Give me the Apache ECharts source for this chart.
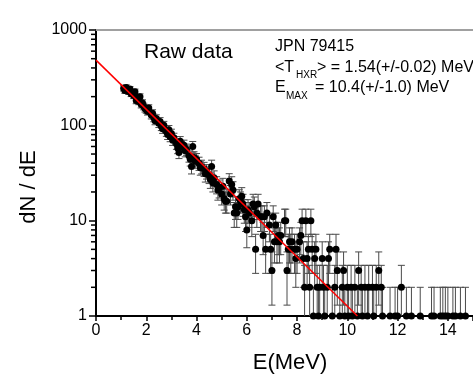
<!DOCTYPE html>
<html><head><meta charset="utf-8">
<script src="https://cdn.jsdelivr.net/npm/echarts@6/dist/echarts.min.js"></script>
<style>html,body{margin:0;padding:0;background:#fff}#c{width:473px;height:375px}</style>
</head><body><div id="c"></div>
<script>
// Measured spectrum: energy (MeV), dN/dE, and its error bar half-height
const energies = [
 1.10,1.15,1.20,1.25,1.30,1.35,1.40,1.50,1.55,1.60,
 1.65,1.70,1.75,1.80,1.85,1.90,1.95,2.00,2.05,2.10,
 2.20,2.25,2.30,2.35,2.40,2.50,2.55,2.60,2.65,2.70,
 2.80,2.85,2.90,2.95,3.00,3.05,3.10,3.20,3.25,3.30,
 3.35,3.40,3.50,3.55,3.60,3.70,3.75,3.80,3.85,3.90,
 3.95,4.00,4.10,4.15,4.20,4.30,4.35,4.40,4.50,4.55,
 4.60,4.65,4.70,4.80,4.85,4.90,5.00,5.05,5.10,5.15,
 5.20,5.30,5.35,5.40,5.45,5.50,5.55,5.60,5.65,5.70,
 5.75,5.80,5.85,5.90,5.95,6.00,6.05,6.10,6.20,6.25,
 6.30,6.35,6.40,6.45,6.55,6.60,6.65,6.70,6.75,6.80,
 6.90,6.95,7.00,7.05,7.10,7.15,7.20,7.25,7.30,7.35,
 7.50,7.55,7.60,7.65,7.70,7.75,7.80,7.90,7.95,8.00,
 8.10,8.15,8.20,8.25,8.30,8.35,8.40,8.45,8.50,8.55,
 8.60,8.65,8.70,8.75,8.80,8.85,8.90,9.00,9.05,9.10,
 9.20,9.25,9.30,9.40,9.50,9.55,9.60,9.70,9.80,9.85,
 9.90,10.00,10.05,10.15,10.20,10.30,10.40,10.45,10.55,10.60,
 10.70,10.80,10.85,11.00,11.05,11.15,11.25,11.35,11.40,11.70,
 11.90,12.00,12.15,12.35,12.55,12.90,13.35,13.45,13.70,13.80,
 13.90,14.00,14.20,14.30,14.50,14.70
];
const counts = [
 245,232,250,238,226,240,215,205,225,182,
 195,178,200,165,172,158,150,146,140,152,
 128,134,120,112,118,105,110,98,92,100,
 86,80,90,76,82,70,74,64,58,52,
 68,60,62,54,56,48,44,37,60,46,
 42,44,40,36,37,35,31,33,30,27,
 37,25,28,24,21,22,19,23,17,16,
 16,26,19,24,21,12,14,12,14,17,
 16,18,15,13,11,8,13,12,10,15,
 14,5,12,15,11,11,7,11,5,12,
 9,5,3,11,6,9,6,7,6,7,
 10,10,3,5,6,5,6,5,4,5,
 6,7,10,4,2,10,4,5,2,10,
 5,1,4,5,2,1,2,4,2,1,
 2,4,5,1,2,5,3,1,2,3,
 1,2,1,2,1,2,1,3,2,1,
 2,1,2,2,1,2,3,2,1,1,
 1,1,2,1,1,1,1,1,1,1,
 1,1,1,1,1,1
];
const countErrors = [
 15.7,15.2,15.8,15.4,15.0,15.5,14.7,14.3,15.0,13.5,
 14.0,13.3,14.1,12.8,13.1,12.6,12.2,12.1,11.8,12.3,
 11.3,11.6,11.0,10.6,10.9,10.2,10.5,9.9,9.6,10.0,
 9.3,8.9,9.5,8.7,9.1,8.4,8.6,8.0,7.6,7.2,
 8.2,7.7,7.9,7.3,7.5,6.9,6.6,6.1,7.7,6.8,
 6.5,6.6,6.3,6.0,6.1,5.9,5.6,5.7,5.5,5.2,
 6.1,5.0,5.3,4.9,4.6,4.7,4.4,4.8,4.1,4.0,
 4.0,5.1,4.4,4.9,4.6,3.5,3.7,3.5,3.7,4.1,
 4.0,4.2,3.9,3.6,3.3,2.8,3.6,3.5,3.2,3.9,
 3.7,2.2,3.5,3.9,3.3,3.3,2.6,3.3,2.2,3.5,
 3.0,2.2,1.7,3.3,2.4,3.0,2.4,2.6,2.4,2.6,
 3.2,3.2,1.7,2.2,2.4,2.2,2.4,2.2,2.0,2.2,
 2.4,2.6,3.2,2.0,1.4,3.2,2.0,2.2,1.4,3.2,
 2.2,1.0,2.0,2.2,1.4,1.0,1.4,2.0,1.4,1.0,
 1.4,2.0,2.2,1.0,1.4,2.2,1.7,1.0,1.4,1.7,
 1.0,1.4,1.0,1.4,1.0,1.4,1.0,1.7,1.4,1.0,
 1.4,1.0,1.4,1.4,1.0,1.4,1.7,1.4,1.0,1.0,
 1.0,1.0,1.4,1.0,1.0,1.0,1.0,1.0,1.0,1.0,
 1.0,1.0,1.0,1.0,1.0,1.0
];
// Exponential fit line (end points)
const fitEnergy = [0, 10.4];
const fitCounts = [483, 1];
// Axis ranges / ticks
const xRange = [0, 15];
const yRange = [1, 1000];
const yMinorTickValues = [2,3,4,5,6,7,8,9,20,30,40,50,60,70,80,90,200,300,400,500,600,700,800,900];
// Annotation text
const titleText = 'Raw data';
const shotText = 'JPN 79415';

const FONT = "'Liberation Sans', Arial, Helvetica, sans-serif";
const chart = echarts.init(document.getElementById('c'), null, {renderer: 'canvas'});

const points = energies.map((e, i) => [e, counts[i]]);
const bars = energies.map((e, i) => [e, counts[i], countErrors[i]]);
const fitData = fitEnergy.map((e, i) => [e, fitCounts[i]]);

function renderErr(params, api) {
  const x = api.value(0), v = api.value(1), e = api.value(2);
  const top = api.coord([x, v + e]);
  const lowVal = v - e;
  const bot = api.coord([x, lowVal >= 1 ? lowVal : 1]);
  const w = 3.5;
  const st = {stroke: '#4a4a4a', lineWidth: 1};
  const ch = [
    {type: 'line', shape: {x1: top[0], y1: top[1], x2: bot[0], y2: bot[1]}, style: st},
    {type: 'line', shape: {x1: top[0] - w, y1: top[1], x2: top[0] + w, y2: top[1]}, style: st}
  ];
  if (lowVal >= 1) ch.push({type: 'line', shape: {x1: bot[0] - w, y1: bot[1], x2: bot[0] + w, y2: bot[1]}, style: st});
  return {type: 'group', children: ch};
}
function renderMinorTick(params, api) {
  const p = api.coord([xRange[0], api.value(1)]);
  return {type: 'line', shape: {x1: p[0] - 5, y1: p[1], x2: p[0] - 1, y2: p[1]}, style: {stroke: '#000', lineWidth: 1.5}};
}

chart.setOption({
  animation: false,
  backgroundColor: '#fff',
  grid: {left: 96, top: 30, bottom: 59, right: -13, containLabel: false},
  xAxis: [{
    type: 'value', min: xRange[0], max: xRange[1], interval: 2,
    axisLine: {show: true, onZero: false, lineStyle: {color: '#000', width: 2}},
    axisTick: {show: true, length: 5, lineStyle: {color: '#000', width: 1.5}},
    minorTick: {show: true, splitNumber: 2, length: 4, lineStyle: {color: '#000', width: 1.5}},
    axisLabel: {color: '#000', fontSize: 16, fontFamily: FONT, margin: 7, showMaxLabel: false},
    splitLine: {show: false}
  }, {
    type: 'value', position: 'top', min: xRange[0], max: xRange[1],
    axisLine: {show: true, onZero: false, lineStyle: {color: '#a0a0a0', width: 2}},
    axisTick: {show: false}, axisLabel: {show: false}, splitLine: {show: false}
  }],
  yAxis: {
    type: 'log', logBase: 10, min: yRange[0], max: yRange[1],
    axisLine: {show: true, lineStyle: {color: '#000', width: 2}},
    axisTick: {show: true, length: 7, lineStyle: {color: '#000', width: 1.5}},
    axisLabel: {color: '#000', fontSize: 16, fontFamily: FONT, margin: 9,
      formatter: v => String(Math.round(v))},
    splitLine: {show: false}
  },
  graphic: [
    {type: 'text', x: 144, y: 52, style: {text: titleText, font: `21px ${FONT}`, fill: '#000', verticalAlign: 'middle'}},
    {type: 'text', x: 275, y: 47, style: {text: shotText, font: `16px ${FONT}`, fill: '#000', verticalAlign: 'middle'}},
    {type: 'text', x: 275, y: 68, style: {text: '<T', font: `16px ${FONT}`, fill: '#000', verticalAlign: 'middle'}},
    {type: 'text', x: 296, y: 75, style: {text: 'HXR', font: `10px ${FONT}`, fill: '#000', verticalAlign: 'middle'}},
    {type: 'text', x: 317, y: 68, style: {text: '> = 1.54(+/-0.02) MeV', font: `16px ${FONT}`, fill: '#000', verticalAlign: 'middle'}},
    {type: 'text', x: 275, y: 88, style: {text: 'E', font: `16px ${FONT}`, fill: '#000', verticalAlign: 'middle'}},
    {type: 'text', x: 286, y: 96, style: {text: 'MAX', font: `10px ${FONT}`, fill: '#000', verticalAlign: 'middle'}},
    {type: 'text', x: 315, y: 88, style: {text: '= 10.4(+/-1.0) MeV', font: `16px ${FONT}`, fill: '#000', verticalAlign: 'middle'}},
    {type: 'text', x: 29, y: 187, rotation: Math.PI / 2, style: {text: 'dN / dE', font: `22px ${FONT}`, fill: '#000', align: 'center', verticalAlign: 'middle'}},
    {type: 'text', x: 290, y: 363, style: {text: 'E(MeV)', font: `22px ${FONT}`, fill: '#000', align: 'center', verticalAlign: 'middle'}}
  ],
  series: [
    {type: 'custom', name: 'errors', renderItem: renderErr, data: bars, clip: false, z: 2,
     dimensions: ['x', 'y', 'err'], encode: {x: 0, y: 1}, silent: true},
    {type: 'scatter', name: 'data', data: points, symbol: 'circle', symbolSize: 7, clip: false, z: 3,
     itemStyle: {color: '#000', opacity: 1}, silent: true},
    {type: 'line', name: 'fit', data: fitData, symbol: 'none', z: 4, silent: true,
     lineStyle: {color: '#ff0000', width: 1.5}},
    {type: 'custom', name: 'yminor', renderItem: renderMinorTick, clip: false, z: 5, silent: true,
     data: yMinorTickValues.map(v => [xRange[0], v]), encode: {x: 0, y: 1}}
  ]
});
</script></body></html>
